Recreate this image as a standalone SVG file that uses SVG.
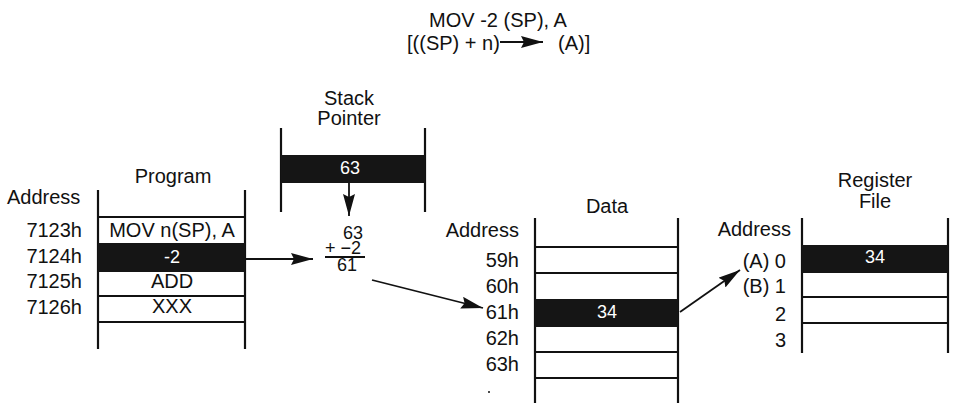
<svg xmlns="http://www.w3.org/2000/svg" width="953" height="403" viewBox="0 0 953 403">
<style>
text{font-family:"Liberation Sans",Arial,sans-serif;font-size:20px;fill:#111}
.c{text-anchor:middle}
.r{text-anchor:end}
.w{fill:#fff}
.s{font-size:18px}
.v{stroke:#111;stroke-width:2.2;fill:none}
.h{stroke:#111;stroke-width:2;fill:none}
.blk{fill:#151515}
.cn{stroke:#111;stroke-width:1.8;fill:none;marker-end:url(#ah)}
</style>
<defs>
<marker id="ah" markerUnits="userSpaceOnUse" markerWidth="22" markerHeight="12" viewBox="0 0 22 12" refX="22" refY="6" orient="auto">
<path d="M0,0 L22,6 L0,12 L3,6 Z" fill="#111"/>
</marker>
</defs>
<rect width="953" height="403" fill="#fff"/>
<g id="title">
<text class="c" x="498" y="27">MOV -2 (SP), A</text>
<text x="407" y="50">[((SP) + n)</text>
<text x="558" y="50">(A)]</text>
</g>
<g id="program">
<text class="c" x="173" y="183">Program</text>
<text x="7" y="204">Address</text>
<line class="v" x1="98" y1="190" x2="98" y2="349"/>
<line class="v" x1="245" y1="190" x2="245" y2="349"/>
<rect class="blk" x="98" y="243" width="147" height="29"/>
<line class="h" x1="98" y1="217" x2="245" y2="217"/>
<line class="h" x1="98" y1="296" x2="245" y2="296"/>
<line class="h" x1="98" y1="322" x2="245" y2="322"/>
<text class="r" x="82" y="237">7123h</text>
<text class="r" x="82" y="263">7124h</text>
<text class="r" x="82" y="288">7125h</text>
<text class="r" x="82" y="314">7126h</text>
<text class="c" x="172" y="237">MOV n(SP), A</text>
<text class="c w s" x="172" y="263">-2</text>
<text class="c" x="172" y="288">ADD</text>
<text class="c" x="172" y="313">XXX</text>
</g>
<g id="stack-pointer">
<text class="c" x="349" y="105">Stack</text>
<text class="c" x="349" y="125">Pointer</text>
<line class="v" x1="281" y1="128" x2="281" y2="212"/>
<line class="v" x1="425" y1="128" x2="425" y2="212"/>
<rect class="blk" x="281" y="155" width="144" height="28"/>
<text class="c w s" x="350" y="174">63</text>
</g>
<g id="sum">
<text class="c s" x="353" y="239">63</text>
<text class="s" x="325" y="254">+ −2</text>
<line class="h" x1="325" y1="257" x2="365" y2="257"/>
<text class="c s" x="347" y="271">61</text>
</g>
<g id="data">
<text class="c" x="607" y="213">Data</text>
<text class="r" x="519" y="237">Address</text>
<line class="v" x1="535" y1="218" x2="535" y2="403"/>
<line class="v" x1="678" y1="218" x2="678" y2="403"/>
<rect class="blk" x="535" y="299" width="143" height="28"/>
<line class="h" x1="535" y1="247" x2="678" y2="247"/>
<line class="h" x1="535" y1="273" x2="678" y2="273"/>
<line class="h" x1="535" y1="352" x2="678" y2="352"/>
<line class="h" x1="535" y1="378" x2="678" y2="378"/>
<text class="r" x="519" y="267">59h</text>
<text class="r" x="519" y="293">60h</text>
<text class="r" x="519" y="319">61h</text>
<text class="r" x="519" y="345">62h</text>
<text class="r" x="519" y="371">63h</text>
<text class="c w s" x="607" y="318">34</text>
<circle cx="489" cy="392" r="1" fill="#111"/>
</g>
<g id="register-file">
<text class="c" x="875" y="187">Register</text>
<text class="c" x="875" y="208">File</text>
<text class="r" x="791" y="236">Address</text>
<line class="v" x1="802" y1="218" x2="802" y2="353"/>
<line class="v" x1="948" y1="218" x2="948" y2="353"/>
<rect class="blk" x="802" y="245" width="146" height="28"/>
<line class="h" x1="802" y1="297" x2="948" y2="297"/>
<line class="h" x1="802" y1="323" x2="948" y2="323"/>
<text class="r" x="786" y="268">(A) 0</text>
<text class="r" x="786" y="293">(B) 1</text>
<text class="r" x="786" y="321">2</text>
<text class="r" x="786" y="347">3</text>
<text class="c w s" x="875" y="263">34</text>
</g>
<g id="connectors">
<line class="cn" x1="500" y1="42" x2="543" y2="42"/>
<line class="cn" x1="245" y1="259" x2="313" y2="259"/>
<line class="cn" x1="349" y1="183" x2="349" y2="216"/>
<line class="cn" x1="372" y1="280" x2="483" y2="308"/>
<line class="cn" x1="680" y1="312" x2="740" y2="270"/>
</g>
</svg>
